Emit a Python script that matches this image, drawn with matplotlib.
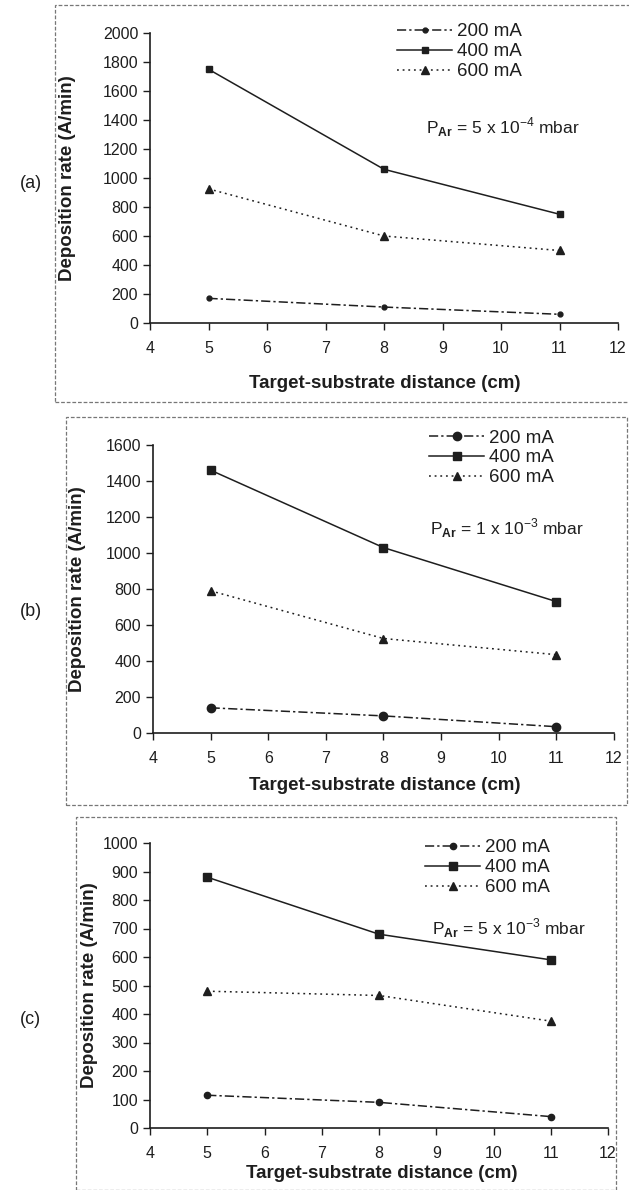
import matplotlib
matplotlib.use("Agg")
import matplotlib.pyplot as plt
from matplotlib.patches import Rectangle

plt.rcParams['font.family'] = ['Liberation Sans', 'DejaVu Sans']
plt.rcParams['mathtext.fontset'] = 'custom'
plt.rcParams['mathtext.rm'] = 'Liberation Sans'
plt.rcParams['mathtext.bf'] = 'Liberation Sans:bold'

distance = [5, 8, 11]
currents = ['200 mA', '400 mA', '600 mA']

# deposition rate (A/min), one list per current, for each pressure
rate_a_200 = [170, 110, 60]
rate_a_400 = [1750, 1060, 750]
rate_a_600 = [925, 600, 500]

rate_b_200 = [140, 95, 35]
rate_b_400 = [1460, 1030, 730]
rate_b_600 = [790, 525, 435]

rate_c_200 = [115, 90, 40]
rate_c_400 = [880, 680, 590]
rate_c_600 = [480, 465, 375]

pressures = [r'P$_{\mathbf{Ar}}$ = 5 x 10$^{-4}$ mbar',
             r'P$_{\mathbf{Ar}}$ = 1 x 10$^{-3}$ mbar',
             r'P$_{\mathbf{Ar}}$ = 5 x 10$^{-3}$ mbar']
panel_tags = ['(a)', '(b)', '(c)']
ylims = [(2000, 200), (1600, 200), (1000, 100)]

ink = '#1e1e1e'
W, H = 629, 1190

fig = plt.figure(figsize=(6.29, 11.9), dpi=100)


def fx(px):
    return px / W


def fy(py):
    return 1 - py / H


# panel geometry in pixels: axes left, right, top(ymax), bottom(0)
panels = [
    dict(ax=(150, 618, 33, 323), box=(55, 5, 632, 402), tag_y=183,
         ylab_x=76, xlab=(385, 383), leg=(388, 14), txt=(426, 127),
         markers=['o', 's', '^'], msize=[3.5, 4.5, 6]),
    dict(ax=(153, 614, 445, 733), box=(66, 417, 627, 805), tag_y=612,
         ylab_x=86, xlab=(385, 785), leg=(420, 420), txt=(430, 528),
         markers=['o', 's', '^'], msize=[6, 6, 5.5]),
    dict(ax=(150, 608, 843, 1128), box=(76, 817, 616, 1190), tag_y=1020,
         ylab_x=98, xlab=(382, 1173), leg=(416, 830), txt=(432, 928),
         markers=['o', 's', '^'], msize=[4.5, 6, 5.5]),
]

data = [
    (rate_a_200, rate_a_400, rate_a_600),
    (rate_b_200, rate_b_400, rate_b_600),
    (rate_c_200, rate_c_400, rate_c_600),
]

styles = [(0, (6, 2, 1.5, 2)), '-', (0, (1.2, 2.5))]

for i, p in enumerate(panels):
    l, r, t, b = p['ax']
    ax = fig.add_axes([fx(l), fy(b), fx(r) - fx(l), fy(t) - fy(b)])
    for series, label, ls, mk, ms in zip(data[i], currents, styles,
                                         p['markers'], p['msize']):
        ax.plot(distance, series, color=ink, linestyle=ls, linewidth=1.1,
                marker=mk, markersize=ms, label=label, clip_on=False)

    top, step = ylims[i]
    ax.set_xlim(4, 12)
    ax.set_ylim(0, top)
    ax.set_xticks(range(4, 13))
    ax.set_yticks(range(0, top + 1, step))
    for side in ['top', 'right']:
        ax.spines[side].set_visible(False)
    for side in ['left', 'bottom']:
        ax.spines[side].set_color(ink)
        ax.spines[side].set_linewidth(1.2)
    ax.tick_params(axis='both', colors=ink, labelsize=11.5, length=5,
                   width=1, direction='out')
    ax.tick_params(axis='x', pad=8)

    ax.set_ylabel('Deposition rate (A/min)', fontsize=13.5,
                  fontweight='bold', color=ink)
    ax.yaxis.set_label_coords((p['ylab_x'] - l) / (r - l), 0.5)
    xl, yl = p['xlab']
    fig.text(fx(xl), fy(yl), 'Target-substrate distance (cm)',
             fontsize=13.5, fontweight='bold', color=ink,
             ha='center', va='center')

    lx, ly = p['leg']
    ax.legend(loc='upper left', bbox_to_anchor=(fx(lx), fy(ly)),
              bbox_transform=fig.transFigure, frameon=False,
              fontsize=13.5, handlelength=2.9, handletextpad=0.3,
              labelspacing=0.15, borderpad=0, labelcolor=ink)

    tx, ty = p['txt']
    fig.text(fx(tx), fy(ty), pressures[i], fontsize=12.5, color=ink,
             ha='left', va='center')

    fig.text(fx(20), fy(p['tag_y']), panel_tags[i], fontsize=13,
             color=ink, ha='left', va='center')

    bx0, by0, bx1, by1 = p['box']
    fig.patches.append(Rectangle((fx(bx0), fy(by1)), fx(bx1) - fx(bx0),
                                 fy(by0) - fy(by1), transform=fig.transFigure,
                                 fill=False, edgecolor='#777777',
                                 linewidth=0.9, linestyle=(0, (3, 1.5))))

fig.savefig('out.png', dpi=100, facecolor='white')
